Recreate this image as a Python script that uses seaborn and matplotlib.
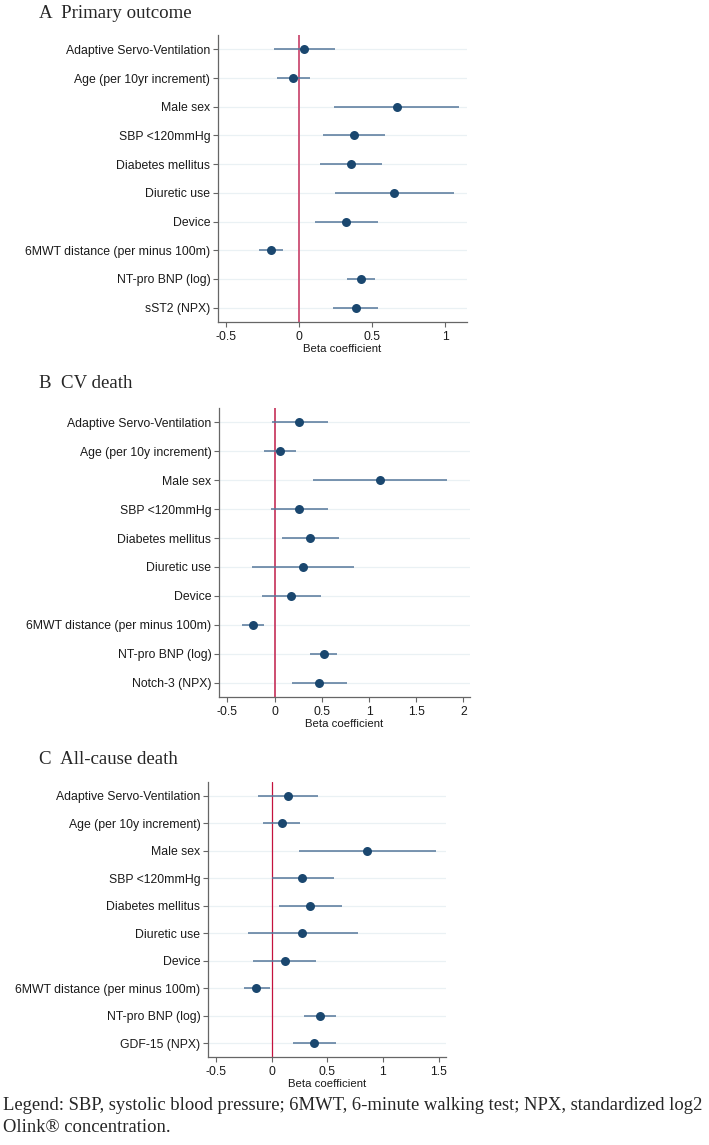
import numpy as np
import pandas as pd
import matplotlib
matplotlib.use("Agg")
import matplotlib.pyplot as plt
import seaborn as sns

# row labels (top to bottom)
common = ["Adaptive Servo-Ventilation", "Age (per 10yr increment)", "Male sex",
          "SBP <120mmHg", "Diabetes mellitus", "Diuretic use", "Device",
          "6MWT distance (per minus 100m)", "NT-pro BNP (log)"]

labels_a = common + ["sST2 (NPX)"]
beta_a = [0.036, -0.039, 0.669, 0.377, 0.356, 0.651, 0.324, -0.194, 0.425, 0.388]
lo_a = [-0.170, -0.153, 0.242, 0.167, 0.146, 0.249, 0.107, -0.276, 0.326, 0.235]
hi_a = [0.245, 0.078, 1.098, 0.589, 0.566, 1.060, 0.541, -0.107, 0.521, 0.539]

labels_b = ["Adaptive Servo-Ventilation", "Age (per 10y increment)"] + common[2:] + ["Notch-3 (NPX)"]
beta_b = [0.261, 0.053, 1.113, 0.261, 0.375, 0.300, 0.173, -0.233, 0.519, 0.470]
lo_b = [-0.032, -0.117, 0.403, -0.039, 0.081, -0.240, -0.131, -0.350, 0.378, 0.184]
hi_b = [0.565, 0.230, 1.823, 0.565, 0.678, 0.841, 0.488, -0.113, 0.661, 0.763]

labels_c = ["Adaptive Servo-Ventilation", "Age (per 10y increment)"] + common[2:] + ["GDF-15 (NPX)"]
beta_c = [0.150, 0.090, 0.859, 0.278, 0.344, 0.275, 0.117, -0.135, 0.434, 0.383]
lo_c = [-0.120, -0.072, 0.249, 0.003, 0.063, -0.213, -0.165, -0.249, 0.296, 0.189]
hi_c = [0.419, 0.254, 1.476, 0.557, 0.635, 0.772, 0.401, -0.018, 0.575, 0.581]

sns.set_style("white")
plt.rcParams["font.family"] = ["Liberation Sans", "DejaVu Sans"]

W, H = 709, 1145
fig = plt.figure(figsize=(W / 100, H / 100), dpi=100)

navy = "#1a476f"
ci_col = "#55779a"

panels = [
    ("A", "Primary outcome", labels_a, beta_a, lo_a, hi_a,
     (218, 35, 467, 322), (-0.555, 1.15), [-0.5, 0, 0.5, 1], "#cf5a7d", 1.4, 13),
    ("B", "CV death", labels_b, beta_b, lo_b, hi_b,
     (219, 408, 470, 697), (-0.59, 2.07), [-0.5, 0, 0.5, 1, 1.5, 2], "#c52f58", 1.2, 384),
    ("C", "All-cause death", labels_c, beta_c, lo_c, hi_c,
     (208, 782, 446, 1057), (-0.57, 1.566), [-0.5, 0, 0.5, 1, 1.5], "#c4123e", 0.9, 759),
]

for letter, title, labels, beta, lo, hi, box, xlim, xt, zcol, zlw, ty in panels:
    x0, y0, x1, y1 = box
    ax = fig.add_axes([x0 / W, 1 - y1 / H, (x1 - x0) / W, (y1 - y0) / H])
    df = pd.DataFrame({"var": labels, "beta": beta, "lo": lo, "hi": hi})
    pos = np.arange(len(df))

    for p in pos:
        ax.axhline(p, color="#eaf1f4", lw=0.9, zorder=0)
    ax.hlines(pos, df["lo"], df["hi"], color=ci_col, lw=1.1, zorder=2)
    ax.axvline(0, color=zcol, lw=zlw, zorder=1)
    sns.scatterplot(data=df, x="beta", y=pos, ax=ax, color=navy, s=42,
                    edgecolor=navy, linewidth=0, zorder=3, legend=False)

    ax.set_xlim(*xlim)
    ax.set_ylim(len(df) - 0.5, -0.5)
    ax.set_yticks(pos)
    ax.set_yticklabels(df["var"], fontsize=8.8, color="#1a1a1a")
    ax.set_xticks(xt)
    ax.set_xticklabels([f"{v:g}" for v in xt], fontsize=8.8, color="#1a1a1a")
    ax.set_xlabel("Beta coefficient", fontsize=8.2, labelpad=1, color="#1a1a1a")
    ax.set_ylabel("")
    ax.tick_params(axis="y", direction="out", length=3.5, width=0.8,
                   color="#666666", pad=2, left=True)
    ax.tick_params(axis="x", direction="out", length=3.5, width=0.8,
                   color="#666666", pad=3, bottom=True)
    for side in ["top", "right"]:
        ax.spines[side].set_visible(False)
    for side in ["left", "bottom"]:
        ax.spines[side].set_color("#666666")
        ax.spines[side].set_linewidth(0.9)

    fig.text(39 / W, 1 - ty / H, f"{letter}  {title}", fontsize=13.6,
             family="Liberation Serif", va="center", ha="left")

fig.text(3 / W, 1 - 1110 / H,
         "Legend: SBP, systolic blood pressure; 6MWT, 6-minute walking test; NPX, standardized log2",
         fontsize=13.4, family="Liberation Serif", va="baseline", ha="left")
fig.text(3 / W, 1 - 1132 / H, "Olink® concentration.",
         fontsize=13.4, family="Liberation Serif", va="baseline", ha="left")

fig.savefig("out.png", dpi=100)
